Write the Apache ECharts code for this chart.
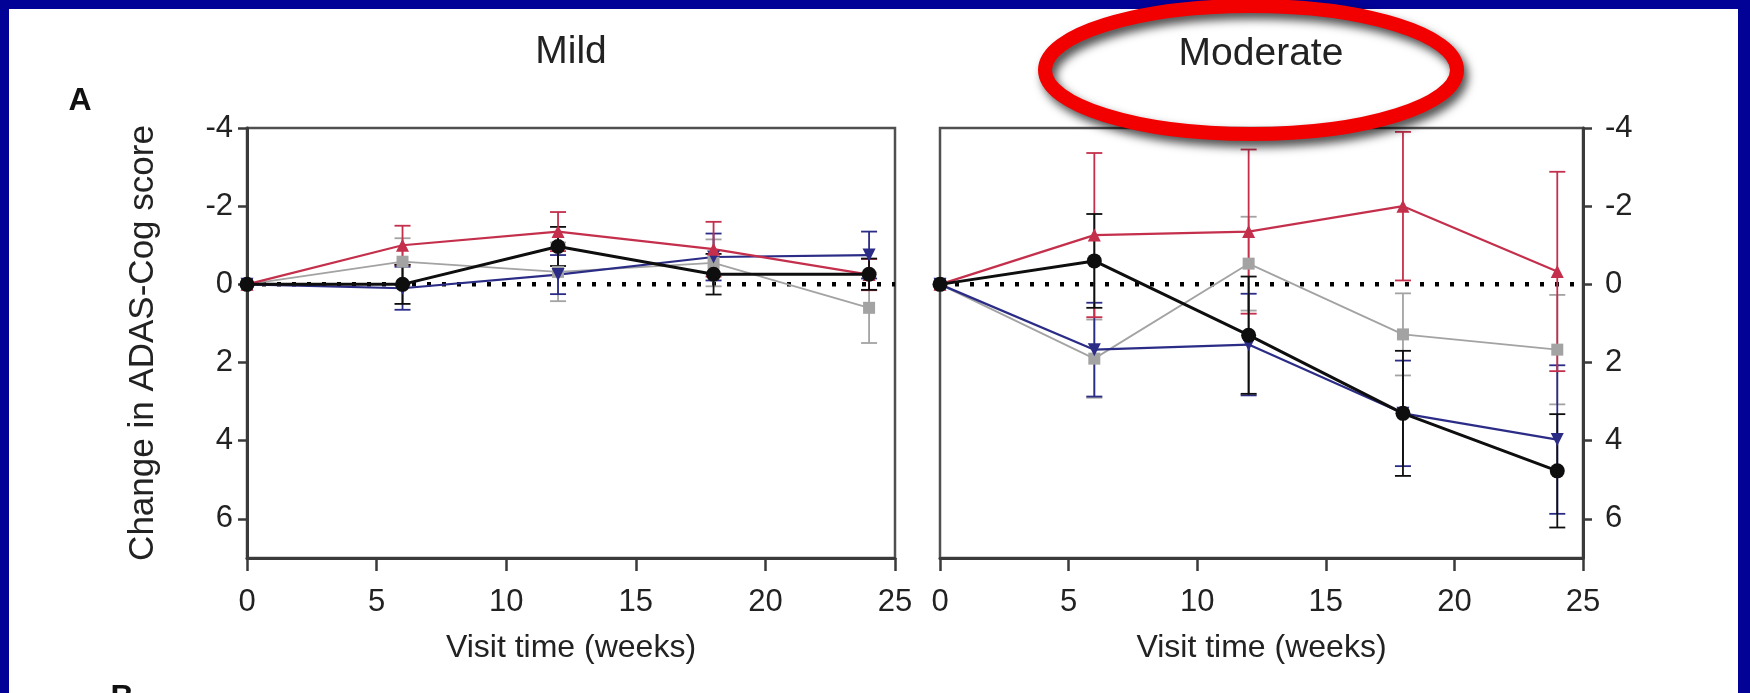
<!DOCTYPE html>
<html>
<head>
<meta charset="utf-8">
<script src="https://cdn.jsdelivr.net/npm/echarts@6/dist/echarts.min.js"></script>
<style>
html, body { margin: 0; padding: 0; background: #fff; }
#chart { width: 1750px; height: 693px; }
</style>
</head>
<body>
<div id="chart"></div>
<script>
// visit weeks and axis ticks
var weeks = [0, 6, 12, 18, 24];
var yTicks = [-4, -2, 0, 2, 4, 6];

// Mild panel: mean change and error
var mildRed = [0, -1.0, -1.35, -0.9, -0.25];
var mildRedErr = [0, 0.5, 0.5, 0.7, 0.4];
var mildBlack = [0, 0, -0.97, -0.26, -0.26];
var mildBlackErr = [0, 0.5, 0.5, 0.52, 0.4];
var mildBlue = [0, 0.1, -0.25, -0.7, -0.75];
var mildBlueErr = [0, 0.55, 0.5, 0.6, 0.6];
var mildGray = [0, -0.58, -0.32, -0.55, 0.6];
var mildGrayErr = [0, 0.6, 0.75, 0.6, 0.9];

// Moderate panel
var modRed = [0, -1.26, -1.35, -2.0, -0.33];
var modRedErr = [0, 2.1, 2.1, 1.9, 2.55];
var modBlack = [0, -0.6, 1.3, 3.3, 4.77];
var modBlackErr = [0, 1.2, 1.5, 1.6, 1.45];
var modBlue = [0, 1.67, 1.54, 3.3, 3.97];
var modBlueErr = [0, 1.2, 1.3, 1.35, 1.9];
var modGray = [0, 1.9, -0.53, 1.28, 1.67];
var modGrayErr = [0, 1.0, 1.2, 1.05, 1.4];

var RED = '#c42f4c', BLACK = '#0e0e0e', BLUE = '#2b2c86', GRAY = '#a3a3a3';
var FONT = 'Liberation Sans';
var TXT = '#222222';

var dom = document.getElementById('chart');
var myChart = echarts.init(dom);

function pts(vals) {
    return weeks.map(function (w, i) { return [w, vals[i]]; });
}
function bars(vals, errs) {
    var out = [];
    weeks.forEach(function (w, i) {
        if (errs[i] > 0) out.push([w, vals[i] - errs[i], vals[i] + errs[i]]);
    });
    return out;
}
function errRender(color) {
    return function (params, api) {
        var a = api.coord([api.value(0), api.value(1)]);
        var b = api.coord([api.value(0), api.value(2)]);
        var w = 8;
        var st = { stroke: color, lineWidth: 1.8 };
        return {
            type: 'group',
            children: [
                { type: 'line', shape: { x1: a[0], y1: a[1], x2: b[0], y2: b[1] }, style: st },
                { type: 'line', shape: { x1: a[0] - w, y1: a[1], x2: a[0] + w, y2: a[1] }, style: st },
                { type: 'line', shape: { x1: b[0] - w, y1: b[1], x2: b[0] + w, y2: b[1] }, style: st }
            ]
        };
    };
}
function lineSeries(idx, vals, color, symbol, size, width, rotate) {
    return {
        type: 'line', xAxisIndex: idx, yAxisIndex: idx,
        data: pts(vals),
        symbol: symbol, symbolSize: size, symbolRotate: rotate || 0,
        showAllSymbol: true,
        lineStyle: { color: color, width: width },
        itemStyle: { color: color },
        z: 4
    };
}
function errSeries(idx, vals, errs, color) {
    return {
        type: 'custom', xAxisIndex: idx, yAxisIndex: idx,
        data: bars(vals, errs),
        encode: { x: 0, y: [1, 2] },
        renderItem: errRender(color),
        z: 3
    };
}
function zeroLine(idx) {
    return {
        type: 'line', xAxisIndex: idx, yAxisIndex: idx,
        data: [[0, 0], [25, 0]],
        showSymbol: false, silent: true,
        lineStyle: { color: '#000', width: 4.5, type: [4, 11] },
        z: 2
    };
}
function xAx(idx) {
    return {
        type: 'value', gridIndex: idx, min: 0, max: 25, interval: 5,
        name: 'Visit time (weeks)', nameLocation: 'middle', nameGap: 74,
        nameTextStyle: { fontFamily: FONT, fontSize: 32, color: TXT },
        axisLine: { onZero: false, lineStyle: { color: '#3a3a3a', width: 3 } },
        axisTick: { show: true, length: 13, lineStyle: { color: '#3a3a3a', width: 2.5 } },
        axisLabel: { fontFamily: FONT, fontSize: 31, color: TXT, margin: 29 },
        splitLine: { show: false }
    };
}
function yAx(idx, pos) {
    return {
        type: 'value', gridIndex: idx, position: pos, inverse: true,
        min: -4, max: 7,
        axisLine: { show: true, onZero: false, lineStyle: { color: '#3a3a3a', width: 3 } },
        axisTick: { show: true, length: 9, customValues: yTicks, lineStyle: { color: '#3a3a3a', width: 2.5 } },
        axisLabel: { fontFamily: FONT, fontSize: 31, color: TXT, margin: pos === 'right' ? 22 : 14, customValues: yTicks },
        splitLine: { show: false }
    };
}

var leftY = yAx(0, 'left');
leftY.name = 'Change in ADAS-Cog score';
leftY.nameLocation = 'middle';
leftY.nameGap = 86;
leftY.nameTextStyle = { fontFamily: FONT, fontSize: 35, color: TXT };

option = {
    backgroundColor: '#ffffff',
    animation: false,
    grid: [
        { left: 247, top: 128, width: 648, height: 430, show: true, borderColor: '#505050', borderWidth: 2.5, backgroundColor: 'transparent' },
        { left: 940, top: 128, width: 643, height: 430, show: true, borderColor: '#505050', borderWidth: 2.5, backgroundColor: 'transparent' }
    ],
    xAxis: [xAx(0), xAx(1)],
    yAxis: [leftY, yAx(1, 'right')],
    series: [
        zeroLine(0),
        errSeries(0, mildGray, mildGrayErr, GRAY),
        errSeries(0, mildBlue, mildBlueErr, BLUE),
        errSeries(0, mildRed, mildRedErr, RED),
        errSeries(0, mildBlack, mildBlackErr, BLACK),
        lineSeries(0, mildGray, GRAY, 'rect', 12, 1.8),
        lineSeries(0, mildBlue, BLUE, 'triangle', 13, 2.2, 180),
        lineSeries(0, mildRed, RED, 'triangle', 13, 2.2),
        lineSeries(0, mildBlack, BLACK, 'circle', 15, 3),

        zeroLine(1),
        errSeries(1, modGray, modGrayErr, GRAY),
        errSeries(1, modBlue, modBlueErr, BLUE),
        errSeries(1, modRed, modRedErr, RED),
        errSeries(1, modBlack, modBlackErr, BLACK),
        lineSeries(1, modGray, GRAY, 'rect', 12, 1.8),
        lineSeries(1, modBlue, BLUE, 'triangle', 13, 2.2, 180),
        lineSeries(1, modRed, RED, 'triangle', 13, 2.2),
        lineSeries(1, modBlack, BLACK, 'circle', 15, 3)
    ],
    graphic: {
        elements: [
            // slide frame
            { type: 'rect', shape: { x: 0, y: 0, width: 1750, height: 9 }, style: { fill: '#020296' }, z: 1 },
            { type: 'rect', shape: { x: 0, y: 0, width: 9, height: 693 }, style: { fill: '#020296' }, z: 1 },
            { type: 'rect', shape: { x: 1738, y: 0, width: 12, height: 693 }, style: { fill: '#020296' }, z: 1 },
            // panel titles and letters
            { type: 'text', x: 571, y: 52, style: { text: 'Mild', font: '39px ' + FONT, fill: TXT, align: 'center', verticalAlign: 'middle' }, z: 5 },
            { type: 'text', x: 1261, y: 54, style: { text: 'Moderate', font: '39px ' + FONT, fill: TXT, align: 'center', verticalAlign: 'middle' }, z: 5 },
            { type: 'text', x: 80, y: 101, style: { text: 'A', font: 'bold 32px ' + FONT, fill: '#111', align: 'center', verticalAlign: 'middle' }, z: 5 },
            { type: 'text', x: 122, y: 698, style: { text: 'B', font: 'bold 32px ' + FONT, fill: '#111', align: 'center', verticalAlign: 'middle' }, z: 5 },
            // red highlight ellipse
            {
                type: 'ellipse', shape: { cx: 1251, cy: 70, rx: 206, ry: 64 },
                style: { fill: null, stroke: '#f20000', lineWidth: 14, shadowBlur: 10, shadowColor: 'rgba(0,0,0,0.7)', shadowOffsetX: 4, shadowOffsetY: 6 },
                z: 100
            }
        ]
    }
};

if (option && typeof option === 'object') {
    myChart.setOption(option, true);
}
</script>
</body>
</html>
